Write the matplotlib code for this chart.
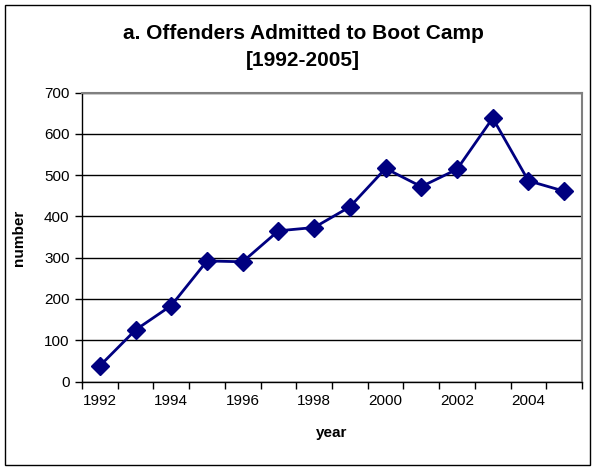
import matplotlib
matplotlib.use("Agg")
import matplotlib.pyplot as plt
from matplotlib.patches import Rectangle

years = [1992, 1993, 1994, 1995, 1996, 1997, 1998, 1999, 2000, 2001, 2002, 2003, 2004, 2005]
offenders = [38, 125, 184, 292, 290, 365, 373, 423, 516, 472, 514, 638, 486, 461]
tick_years = [1992, 1994, 1996, 1998, 2000, 2002, 2004]
y_ticks = [0, 100, 200, 300, 400, 500, 600, 700]

plt.rcParams['font.family'] = ['Liberation Sans', 'DejaVu Sans']

W, H = 594, 470
fig = plt.figure(figsize=(W / 100, H / 100), dpi=100)
fig.patch.set_facecolor('white')

# outer chart frame
fig.add_artist(Rectangle((5 / W, 5 / H), 585 / W, 460 / H, transform=fig.transFigure,
                         fill=False, edgecolor='black', linewidth=1.0))

left, right, top, bottom = 82, 582, 92.5, 381.5
ax = fig.add_axes([left / W, 1 - bottom / H, (right - left) / W, (bottom - top) / H])

n = len(years)
xs = [i + 0.5 for i in range(n)]
ax.plot(xs, offenders, color='#000080', linewidth=2.0, marker='D', markersize=9.5,
        markerfacecolor='#000080', markeredgecolor='#000080', zorder=3, clip_on=False)

ax.set_xlim(0, n)
ax.set_ylim(0, 700)
ax.set_yticks(y_ticks)
ax.set_yticklabels([str(v) for v in y_ticks], fontsize=11)
ax.set_xticks(range(n + 1), minor=False)
ax.set_xticklabels([])
ax.set_xticks([years.index(y) + 0.5 for y in tick_years], minor=True)
ax.set_xticklabels([str(y) for y in tick_years], minor=True, fontsize=11)
ax.tick_params(axis='x', which='major', direction='out', length=5, width=1, color='black')
ax.tick_params(axis='x', which='minor', length=0, pad=9)
ax.tick_params(axis='y', direction='out', length=5, width=1, pad=4)

ax.grid(axis='y', color='black', linewidth=1.0, zorder=1)
ax.set_axisbelow(True)
for s in ['top', 'right']:
    ax.spines[s].set_color('#808080')
    ax.spines[s].set_linewidth(1.5)
for s in ['left', 'bottom']:
    ax.spines[s].set_color('black')
    ax.spines[s].set_linewidth(1.0)

fig.text(303 / W, 1 - 47 / H, 'a. Offenders Admitted to Boot Camp\n[1992-2005]',
         ha='center', va='center', fontsize=15, fontweight='bold', linespacing=1.5)
fig.text(19 / W, 1 - 238 / H, 'number', rotation=90, ha='center', va='center',
         fontsize=11, fontweight='bold')
fig.text(332 / W, 1 - 433 / H, 'year', ha='center', va='center',
         fontsize=11, fontweight='bold')

fig.savefig('out.png', dpi=100, facecolor='white')
